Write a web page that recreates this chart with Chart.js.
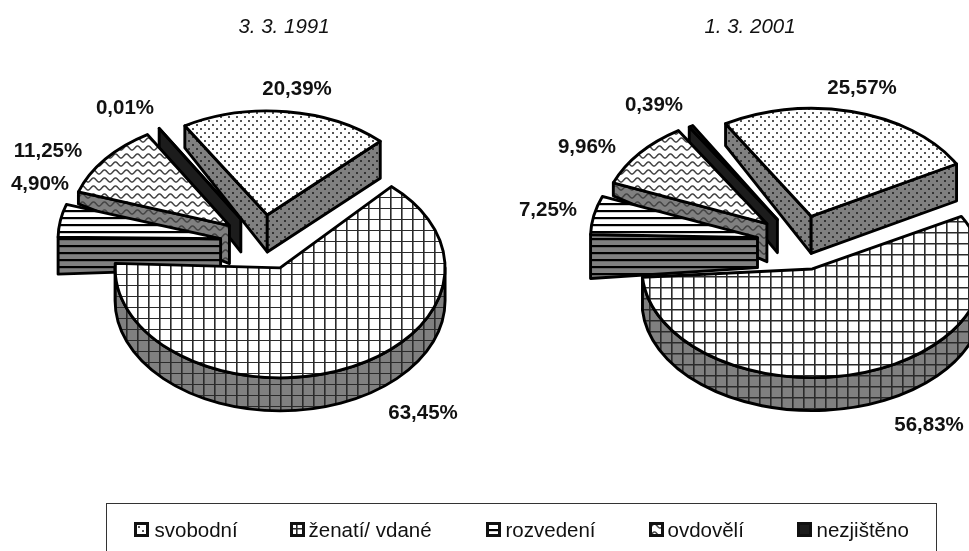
<!DOCTYPE html>
<html lang="cs">
<head>
<meta charset="utf-8">
<title>Rodinný stav</title>
<script src="https://cdn.jsdelivr.net/npm/chart.js@4"></script>
<style>
html,body{margin:0;padding:0;background:#fff;overflow:hidden;width:969px;height:551px}
canvas{position:absolute;top:0}
#c1{left:0}
#c2{left:500px}
#legend{position:absolute;left:106px;top:503px;width:829px;height:60px;border:1.5px solid #333;box-sizing:content-box}
.it{position:absolute;top:0;height:60px;font:20.5px "Liberation Sans",Arial,sans-serif;color:#111;white-space:nowrap}
.it span{position:absolute;top:13.5px;line-height:24px}
.it canvas{position:absolute;top:17.5px;left:0}
</style>
</head>
<body>
<canvas id="c1" width="500" height="551"></canvas>
<canvas id="c2" width="469" height="551"></canvas>
<div id="legend"></div>
<script>
const categories = ['svobodní', 'ženatí/ vdané', 'rozvedení', 'ovdovělí', 'nezjištěno'];
const values1991 = [20.39, 63.45, 4.90, 11.25, 0.01];
const values2001 = [25.57, 56.83, 7.25, 9.96, 0.39];
const titles = ['3. 3. 1991', '1. 3. 2001'];

const SQUASH = 0.667, EXPLODE = 43, LINE = 2.9, FONT = '"Liberation Sans",Arial,sans-serif';
const PAINT_ORDER = [0, 4, 3, 2, 1];

function tile(w, h, paint) {
  const c = document.createElement('canvas');
  c.width = w; c.height = h;
  paint(c.getContext('2d'), w, h);
  return c;
}
function bg(g, color, w, h) { g.fillStyle = color; g.fillRect(0, 0, w, h); }
const painters = {
  dots: (color) => (g, w, h) => {
    bg(g, color, w, h);
    g.fillStyle = color === '#fff' ? '#555' : '#333';
    g.fillRect(0, 0, 2, 2); g.fillRect(4, 4, 2, 2);
  },
  grid: (color, px, py) => (g, w, h) => {
    bg(g, color, w, h);
    g.fillStyle = '#2a2a2a';
    g.fillRect(px, 0, 1.6, h); g.fillRect(0, py, w, 1.5);
  },
  stripes: (color) => (g, w, h) => {
    bg(g, color, w, h);
    g.fillStyle = '#000';
    g.fillRect(0, 0, w, 2.2);
  },
  waves: (color) => (g, w, h) => {
    bg(g, color, w, h);
    g.strokeStyle = '#444'; g.lineWidth = 1.5;
    g.beginPath();
    for (let x = -1; x <= w + 1; x += 0.5) {
      const y = h / 2 + 2 * Math.cos(x / w * 2 * Math.PI);
      if (x === -1) g.moveTo(x, y); else g.lineTo(x, y);
    }
    g.stroke();
  }
};
const tileSize = { dots: [8, 8], grid: [11, 11], stripes: [4, 7], waves: [11, 8] };
function makePattern(ctx, kind, color, px, py) {
  const [w, h] = tileSize[kind];
  return ctx.createPattern(tile(w, h, painters[kind](color, px, py)), 'repeat');
}
function makeStyles(ctx, gx, gy) {
  return [
    { top: makePattern(ctx, 'dots', '#fff'), wall: makePattern(ctx, 'dots', '#808080') },
    { top: makePattern(ctx, 'grid', '#fff', gx, gy), wall: makePattern(ctx, 'grid', '#808080', gx, gy) },
    { top: makePattern(ctx, 'stripes', '#fff'), wall: makePattern(ctx, 'stripes', '#808080') },
    { top: makePattern(ctx, 'waves', '#fff'), wall: makePattern(ctx, 'waves', '#808080') },
    { top: '#1c1c1c', wall: '#1c1c1c' }
  ];
}

function edgeStroke(ctx) {
  ctx.strokeStyle = '#000'; ctx.lineWidth = LINE; ctx.lineJoin = 'round'; ctx.stroke();
}
function drawSlice(ctx, el, style, d) {
  const mid = (el.startAngle + el.endAngle) / 2;
  const a0 = el.startAngle + (d.startAdj || 0) * Math.PI / 180;
  const a1 = el.endAngle + (d.endAdj || 0) * Math.PI / 180;
  const r = el.outerRadius * (d.sx || 1);
  const cx = el.x + Math.cos(mid) * EXPLODE;
  const cy = el.y + Math.sin(mid) * EXPLODE * SQUASH + (d.dy || 0);
  const ry = el.outerRadius * (d.sy || d.sx || 1) * SQUASH;
  const rim = (t) => [cx + Math.cos(t) * r, cy + Math.sin(t) * ry];
  const face = (t, rimDepth) => {
    const p = rim(t);
    ctx.beginPath();
    ctx.moveTo(cx, cy); ctx.lineTo(p[0], p[1]);
    ctx.lineTo(p[0], p[1] + rimDepth); ctx.lineTo(cx, cy + d.apex);
    ctx.closePath();
    ctx.fillStyle = style.wall; ctx.fill(); edgeStroke(ctx);
  };
  if (Math.cos(a0) < 0) face(a0, d.start);
  if (Math.cos(a1) > 0) face(a1, d.end);
  for (const k of [-2, 0, 2]) {
    const lo = Math.max(a0, k * Math.PI), hi = Math.min(a1, (k + 1) * Math.PI);
    if (hi > lo) {
      ctx.beginPath();
      ctx.ellipse(cx, cy, r, ry, 0, lo, hi);
      ctx.ellipse(cx, cy + d.rim, r, ry, 0, hi, lo, true);
      ctx.closePath();
      ctx.fillStyle = style.wall; ctx.fill(); edgeStroke(ctx);
    }
  }
  ctx.beginPath();
  ctx.moveTo(cx, cy);
  ctx.ellipse(cx, cy, r, ry, 0, a0, a1);
  ctx.closePath();
  ctx.fillStyle = style.top; ctx.fill(); edgeStroke(ctx);
}

const pie3d = {
  id: 'pie3d',
  beforeDatasetDraw() { return false; },
  afterDatasetsDraw(chart, args, opts) {
    const ctx = chart.ctx, arcs = chart.getDatasetMeta(0).data;
    ctx.save();
    PAINT_ORDER.forEach((i) => drawSlice(ctx, arcs[i], opts.styles[i], opts.depths[i]));
    ctx.fillStyle = '#111';
    ctx.textAlign = 'center'; ctx.textBaseline = 'middle';
    ctx.font = 'bold 20.5px ' + FONT;
    chart.data.datasets[0].data.forEach((v, i) => {
      ctx.fillText(v.toFixed(2).replace('.', ',') + '%', opts.labelPos[i][0], opts.labelPos[i][1]);
    });
    ctx.font = 'italic 20.5px ' + FONT;
    ctx.fillText(opts.title, opts.titlePos[0], opts.titlePos[1]);
    ctx.restore();
  }
};

function makeChart(id, values, title, cfg) {
  const canvas = document.getElementById(id);
  const ctx = canvas.getContext('2d');
  const W = canvas.width, H = canvas.height, R = cfg.radius;
  return new Chart(ctx, {
    type: 'pie',
    data: { labels: categories, datasets: [{ data: values, borderWidth: 0, hoverOffset: 0, backgroundColor: makeStyles(ctx, 0, 0).map(s => s.top) }] },
    plugins: [pie3d],
    options: {
      responsive: false, animation: false, rotation: cfg.rotation,
      events: [],
      layout: { padding: { left: cfg.center[0] - R, right: W - cfg.center[0] - R, top: cfg.center[1] - R, bottom: H - cfg.center[1] - R } },
      plugins: {
        legend: { display: false }, tooltip: { enabled: false }, title: { display: false },
        pie3d: {
          styles: makeStyles(ctx, cfg.grid[0], cfg.grid[1]),
          depths: cfg.depths, labelPos: cfg.labelPos, title: title, titlePos: cfg.titlePos
        }
      }
    }
  });
}

makeChart('c1', values1991, titles[0], {
  center: [263, 243.5], radius: 165, rotation: -31, grid: [5, 10],
  depths: [
    { apex: 37, start: 22, end: 37, rim: 33, sx: 0.97, sy: 0.945, endAdj: 2.5 },
    { apex: 33, start: 33, end: 33, rim: 33, dy: -2, endAdj: 1.5 },
    { apex: 30, start: 37, end: 30, rim: 33, sx: 0.985 },
    { apex: 38, start: 12, end: 30, rim: 12, sx: 0.965 },
    { apex: 33, start: 20, end: 33, rim: 20, sx: 0.96 }
  ],
  labelPos: [[297, 89], [423, 413], [40, 184], [48, 151], [125, 108]],
  titlePos: [284, 27]
});
makeChart('c2', values2001, titles[1], {
  center: [300, 244], radius: 167, rotation: -31, grid: [6, 1],
  depths: [
    { apex: 37, start: 22, end: 37, rim: 37, sx: 0.995, sy: 0.97 },
    { apex: 33, start: 33, end: 33, rim: 33, dy: -2.5, sx: 1.02, sy: 0.975 },
    { apex: 30, start: 44, end: 30, rim: 33, startAdj: 6, dy: -2 },
    { apex: 38, start: 13, end: 30, rim: 13, dy: -2, sx: 0.99 },
    { apex: 33, start: 20, end: 33, rim: 20, sx: 0.985 }
  ],
  labelPos: [[362, 88], [429, 425], [48, 210], [87, 147], [154, 105]],
  titlePos: [250, 27]
});

const legendLeft = 106;
const swatchX = [134, 290, 486, 649, 797];
const textX = [155, 309, 506, 668, 817];
const legend = document.getElementById('legend');
const probe = document.createElement('canvas').getContext('2d');
const legendStyles = makeStyles(probe, 6, 6);
categories.forEach((name, i) => {
  const it = document.createElement('div');
  it.className = 'it';
  it.style.left = (swatchX[i] - legendLeft - 1.5) + 'px';
  const c = document.createElement('canvas');
  c.width = 15; c.height = 15;
  const g = c.getContext('2d');
  g.fillStyle = legendStyles[i].top; g.fillRect(0, 0, 15, 15);
  g.strokeStyle = '#111'; g.lineWidth = 3; g.strokeRect(1.5, 1.5, 12, 12);
  const s = document.createElement('span');
  s.style.left = (textX[i] - swatchX[i]) + 'px';
  s.textContent = name;
  it.appendChild(c); it.appendChild(s);
  legend.appendChild(it);
});
</script>
</body>
</html>
